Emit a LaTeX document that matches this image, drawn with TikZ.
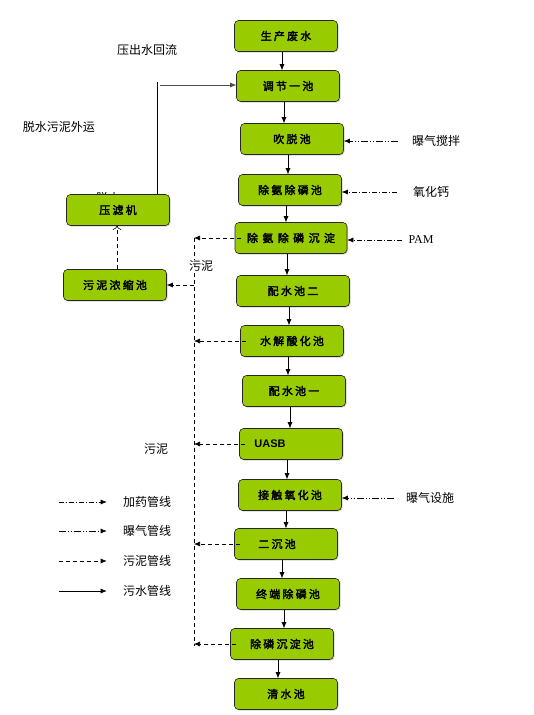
\documentclass[tikz,border=0pt]{standalone}
\usepackage{fontspec}
\usetikzlibrary{shadows,arrows.meta}
\newfontfamily\cjk{Noto Sans CJK SC}
\newfontfamily\boxfont[LetterSpace=20,FakeBold=2.6]{Noto Sans CJK SC}
\newfontfamily\romfont{Liberation Serif}
\newfontfamily\arialfont{Liberation Sans}
\definecolor{boxgreen}{HTML}{99CC00}
\tikzset{
  >={Latex[length=6pt,width=5pt]},
  tank/.style={draw=black!85, fill=boxgreen, rounded corners=4pt, minimum width=103pt, minimum height=31pt, inner sep=0pt, font=\boxfont\fontsize{11}{13}\selectfont, drop shadow={shadow xshift=1pt, shadow yshift=-1pt, opacity=0.35}},
  note/.style={inner sep=0pt, font=\cjk\fontsize{12}{14}\selectfont},
  dose/.style={dash pattern=on 5pt off 2pt on 1pt off 2pt},
  air/.style={dash pattern=on 7pt off 2pt on 1pt off 2pt on 1pt off 2pt},
  mud/.style={dash pattern=on 4pt off 3pt}
}
\begin{document}
\begin{tikzpicture}[x=1pt, y=-1pt, line width=0.6pt]
    \useasboundingbox[fill=white] (0,0) rectangle (533,715);
    \node[note] (dewater) at (108,198) {脱水};
    \node[tank] (waste) at (286,36) {生产废水};
    \node[tank] (tiao) at (288,86) {调节一池};
    \node[tank] (blow) at (292,139) {吹脱池};
    \node[tank] (npool) at (290,190) {除氨除磷池};
    \node[tank, minimum width=112pt] (nsed) at (291,238) {\addfontfeature{LetterSpace=40}除氨除磷沉淀};
    \node[tank, minimum width=113pt] (mix2) at (293,291) {配水池二};
    \node[tank] (hydro) at (292,341) {水解酸化池};
    \node[tank] (mix1) at (294,391) {配水池一};
    \node[tank, label={[xshift=-21pt, font=\arialfont\bfseries\fontsize{11}{13}\selectfont]center:UASB}] (uasb) at (291,444) {};
    \node[tank] (contact) at (290,495) {接触氧化池};
    \node[tank, label={[xshift=-9pt, font=\boxfont\fontsize{11}{13}\selectfont]center:二沉池}] (sec) at (286,544) {};
    \node[tank] (endp) at (288,594) {终端除磷池};
    \node[tank] (psed) at (282,644) {除磷沉淀池};
    \node[tank] (clear) at (286,694) {清水池};
    \node[tank] (press) at (118,210) {压滤机};
    \node[tank] (thick) at (115,285) {污泥浓缩池};
    \foreach \a/\b in {waste/tiao, tiao/blow, blow/npool, npool/nsed, nsed/mix2, mix2/hydro, hydro/mix1, mix1/uasb, uasb/contact, contact/sec, sec/endp, endp/psed, psed/clear}
        \draw[->] ([xshift=-4]\a.south) -- ([xshift=-4]\a.south |- \b.north);
    \node[note] (back) at (147,50) {压出水回流};
    \node[note] (away) at (59,127) {脱水污泥外运};
    \coordinate (retTop) at (157,82);
    \coordinate (retIn) at (160,85);
    \draw (press.north -| retTop) -- (retTop);
    \draw[->, black!70] (retIn) -- (retIn -| tiao.west);
    \node[note] (airA) at (436,141) {曝气搅拌};
    \node[note] (lime) at (431,192) {氧化钙};
    \node[note, font=\romfont\fontsize{12}{14}\selectfont] (pam) at (421,240) {PAM};
    \node[note] (airB) at (430,498) {曝气设施};
    \draw[air, ->] ([xshift=-14]airA.west) -- (airA.west -| blow.east);
    \draw[dose, ->] ([xshift=-16]lime.west) -- (lime.west -| npool.east);
    \draw[dose, ->] ([xshift=-6]pam.west) -- (pam.west -| nsed.east);
    \draw[air, ->] ([xshift=-12]airB.west) -- (airB.west -| contact.east);
    \coordinate (mudTop) at (194,238);
    \coordinate (mudBot) at (194,646);
    \draw[mud] (mudTop) -- (mudBot);
    \foreach \s in {nsed, hydro, uasb, sec, psed}
        \draw[mud, ->] ([xshift=6]\s.west) -- (\s.west -| mudTop);
    \draw[mud, ->] (mudTop |- thick.east) -- (thick.east);
    \draw[mud, -{To[length=4pt]}] ([xshift=2]thick.north) -- ([xshift=2]thick.north |- press.south);
    \node[note, fill=white, inner sep=1pt] (mudA) at (201,266) {污泥};
    \node[note] (mudB) at (156,449) {污泥};
    \node[note] (lgA) at (147,502) {加药管线};
    \node[note] (lgB) at (147,531) {曝气管线};
    \node[note] (lgC) at (147,561) {污泥管线};
    \node[note] (lgD) at (147,591) {污水管线};
    \draw[dose, ->] ([xshift=-64]lgA.west) -- ([xshift=-16]lgA.west);
    \draw[air, ->] ([xshift=-64]lgB.west) -- ([xshift=-16]lgB.west);
    \draw[mud, ->] ([xshift=-64]lgC.west) -- ([xshift=-16]lgC.west);
    \draw[->] ([xshift=-64]lgD.west) -- ([xshift=-16]lgD.west);
\end{tikzpicture}
\end{document}
